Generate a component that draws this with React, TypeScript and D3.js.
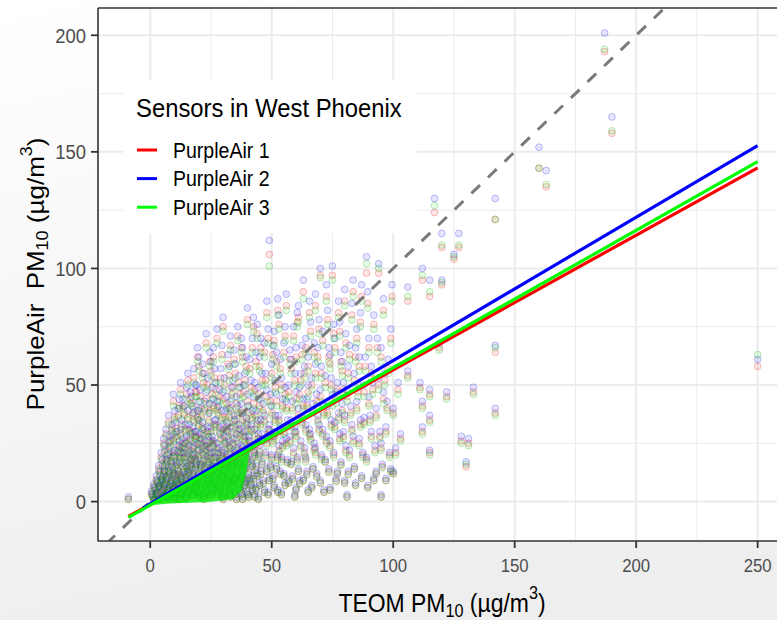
import React from "react";
import * as d3 from "d3";

const W = 777;
const H = 620;

const sensors = ["PurpleAir 1", "PurpleAir 2", "PurpleAir 3"];
const sensorColors = ["#FF0000", "#0000FF", "#00FF00"];
const pointStroke = ["#e00000", "#0000e0", "#009000"];
const xTicks = [0, 50, 100, 150, 200, 250];
const yTicks = [0, 50, 100, 150, 200];
const xMinor = [-25, 25, 75, 125, 175, 225, 275];
const yMinor = [25, 75, 125, 175];

// fitted lines (TEOM, PurpleAir) end points
const fit1: number[][] = [[-9, -6.4], [250, 143.1]];
const fit2: number[][] = [[-3, -2.8], [250, 152.7]];
const fit3: number[][] = [[-9, -6.8], [250, 145.8]];
// dense fan of PurpleAir 3 fitted values near the origin
const fan3: number[][] = [[-2, -1.8], [41, 22.6], [39.5, 12], [37.5, 4.5], [34, 1], [24, -0.2], [8, -0.8]];

// observations: [TEOM, PurpleAir 1, PurpleAir 2, PurpleAir 3]
const obsA: number[][] = [
  [-9, 1, 2, 1], [1, 2, 3, 2], [2, 1, 2, 1], [2, 5, 6, 5], [3, 3, 4, 3], [3, 8, 9, 8], [4, 2, 3, 2], [4, 6, 7, 6], [4, 12, 13, 11],
  [5, 1, 2, 1], [5, 4, 5, 4], [5, 9, 10, 9], [5, 16, 18, 15], [6, 3, 4, 3], [6, 7, 8, 7], [6, 13, 15, 13], [6, 22, 24, 21],
  [7, 2, 2, 2], [7, 5, 6, 5], [7, 10, 11, 10], [7, 18, 20, 17], [8, 1, 2, 1], [8, 6, 7, 6], [8, 12, 13, 12], [8, 26, 28, 25],
  [9, 3, 4, 3], [9, 8, 9, 8], [9, 15, 16, 14], [9, 31, 33, 30], [10, 2, 3, 2], [10, 5, 6, 5], [10, 11, 12, 10], [10, 20, 22, 19],
  [10, 36, 39, 35], [11, 4, 5, 4], [11, 9, 10, 9], [11, 14, 16, 14], [11, 28, 30, 27], [12, 1, 2, 1], [12, 7, 8, 7], [12, 17, 19, 17],
  [12, 24, 26, 23], [12, 41, 44, 40], [13, 3, 4, 3], [13, 10, 11, 10], [13, 21, 23, 20], [13, 33, 35, 32], [14, 5, 6, 5],
  [14, 13, 14, 13], [14, 19, 21, 18], [14, 38, 41, 37], [15, 2, 3, 2], [15, 8, 9, 8], [15, 15, 17, 15], [15, 26, 28, 25],
  [15, 46, 49, 44], [16, 4, 5, 4], [16, 11, 12, 11], [16, 22, 24, 21], [16, 31, 33, 30], [17, 6, 7, 6], [17, 14, 15, 14],
  [17, 18, 20, 18], [17, 42, 45, 41], [18, 3, 4, 3], [18, 9, 10, 9], [18, 24, 26, 23], [18, 35, 38, 34], [18, 53, 57, 51],
  [19, 7, 8, 7], [19, 16, 17, 16], [19, 28, 30, 27], [19, 47, 50, 45], [20, 2, 3, 2], [20, 12, 13, 12], [20, 20, 22, 19],
  [20, 33, 35, 32], [20, 40, 43, 39], [20, 58, 62, 56],
];
const obsB: number[][] = [
  [21, 5, 6, 5], [21, 15, 16, 14], [21, 25, 27, 24], [21, 37, 40, 36], [22, 1, 2, 1], [22, 9, 10, 9], [22, 18, 20, 17],
  [22, 29, 31, 28], [22, 51, 55, 49], [23, 4, 5, 4], [23, 12, 13, 12], [23, 22, 24, 21], [23, 44, 47, 42], [23, 68, 72, 66],
  [24, 7, 8, 7], [24, 16, 17, 16], [24, 26, 28, 25], [24, 35, 38, 34], [25, 2, 3, 2], [25, 10, 11, 10], [25, 19, 21, 18],
  [25, 30, 32, 29], [25, 56, 60, 54], [26, 5, 6, 5], [26, 14, 15, 14], [26, 24, 26, 23], [26, 41, 44, 40], [26, 62, 66, 60],
  [27, 8, 9, 8], [27, 17, 19, 17], [27, 33, 35, 32], [27, 48, 51, 46], [28, 3, 4, 3], [28, 12, 13, 12], [28, 21, 23, 20],
  [28, 38, 41, 37], [29, 6, 7, 6], [29, 15, 16, 15], [29, 27, 29, 26], [29, 53, 57, 51], [30, 1, 2, 1], [30, 10, 11, 10],
  [30, 19, 21, 18], [30, 31, 33, 30], [30, 44, 47, 42], [30, 75, 79, 73], [31, 4, 5, 4], [31, 13, 14, 13], [31, 23, 25, 22],
  [31, 36, 39, 35], [32, 8, 9, 8], [32, 17, 18, 17], [32, 28, 30, 27], [32, 59, 63, 57], [33, 2, 3, 2], [33, 11, 12, 11],
  [33, 21, 23, 20], [33, 40, 43, 39], [33, 67, 71, 65], [34, 6, 7, 6], [34, 15, 16, 15], [34, 25, 27, 24], [34, 49, 52, 47],
  [35, 3, 4, 3], [35, 9, 10, 9], [35, 19, 21, 18], [35, 33, 35, 32], [35, 55, 59, 53], [36, 12, 13, 12], [36, 23, 25, 22],
  [36, 38, 41, 37], [36, 71, 75, 69], [37, 5, 6, 5], [37, 16, 17, 16], [37, 29, 31, 28], [37, 46, 49, 44], [38, 1, 2, 1],
  [38, 10, 11, 10], [38, 21, 23, 20], [38, 35, 38, 34], [38, 62, 66, 60], [39, 7, 8, 7], [39, 14, 15, 14], [39, 26, 28, 25],
  [39, 52, 55, 50], [40, 3, 4, 3], [40, 18, 19, 17], [40, 31, 33, 30], [40, 43, 46, 41], [40, 78, 83, 76],
];
const obsC: number[][] = [
  [41, 9, 10, 9], [41, 24, 26, 23], [41, 57, 61, 55], [42, 5, 6, 5], [42, 15, 16, 15], [42, 36, 39, 35], [42, 66, 70, 64],
  [43, 2, 3, 2], [43, 20, 21, 19], [43, 29, 31, 28], [43, 48, 51, 46], [44, 11, 12, 11], [44, 33, 35, 32], [44, 72, 76, 70],
  [45, 7, 8, 7], [45, 22, 24, 21], [45, 41, 44, 40], [45, 58, 62, 56], [46, 16, 17, 16], [46, 27, 29, 26], [46, 52, 55, 50],
  [47, 4, 5, 4], [47, 35, 37, 34], [47, 64, 68, 62], [48, 13, 14, 13], [48, 25, 27, 24], [48, 45, 48, 43], [48, 81, 86, 79],
  [49, 9, 10, 9], [49, 31, 33, 30], [49, 106, 112, 101], [50, 19, 20, 18], [50, 38, 41, 37], [50, 55, 59, 53], [51, 6, 7, 6],
  [51, 28, 30, 27], [51, 69, 73, 67], [52, 14, 15, 14], [52, 43, 46, 41], [52, 60, 64, 58], [53, 22, 24, 21], [53, 35, 37, 34],
  [53, 76, 80, 74], [54, 3, 4, 3], [54, 18, 19, 17], [54, 50, 53, 48], [55, 11, 12, 11], [55, 30, 32, 29], [55, 64, 68, 62],
  [56, 25, 27, 24], [56, 40, 43, 39], [56, 84, 89, 82], [57, 8, 9, 8], [57, 47, 50, 45], [58, 16, 17, 16], [58, 33, 35, 32],
  [58, 57, 61, 55], [59, 21, 23, 20], [59, 71, 75, 69], [60, 5, 6, 5], [60, 28, 30, 27], [60, 44, 47, 42], [60, 62, 66, 60],
];
const obsD: number[][] = [
  [61, 13, 14, 13], [61, 37, 40, 36], [61, 79, 84, 77], [62, 24, 26, 23], [62, 52, 55, 50], [63, 9, 10, 9], [63, 41, 44, 40],
  [63, 90, 95, 87], [64, 18, 19, 17], [64, 31, 33, 30], [64, 66, 70, 64], [65, 4, 5, 4], [65, 47, 50, 45], [65, 58, 62, 56],
  [66, 27, 29, 26], [66, 73, 77, 71], [67, 14, 15, 14], [67, 39, 42, 38], [68, 21, 23, 20], [68, 55, 59, 53], [68, 84, 89, 82],
  [69, 35, 37, 34], [69, 62, 66, 60], [70, 8, 9, 8], [70, 45, 48, 43], [70, 97, 100, 96], [71, 29, 31, 28], [71, 69, 73, 67],
  [72, 17, 18, 17], [72, 51, 54, 49], [73, 38, 41, 37], [73, 78, 82, 76], [74, 5, 6, 5], [74, 24, 26, 23], [74, 59, 63, 57],
  [75, 43, 46, 41], [75, 97, 101, 95], [76, 32, 34, 31], [76, 66, 70, 64], [77, 12, 13, 12], [77, 48, 51, 46], [78, 27, 29, 26],
  [78, 73, 77, 71], [79, 39, 42, 38], [79, 56, 60, 54], [80, 8, 9, 8], [80, 35, 37, 34], [80, 86, 91, 84],
];
const obsE: number[][] = [
  [81, 2, 3, 2], [81, 45, 48, 43], [82, 20, 22, 19], [82, 63, 67, 61], [83, 31, 33, 30], [83, 80, 85, 78], [84, 14, 15, 14],
  [84, 52, 55, 50], [85, 40, 43, 39], [85, 70, 74, 68], [86, 25, 27, 24], [86, 58, 62, 56], [87, 10, 11, 10], [87, 88, 93, 86],
  [88, 34, 36, 33], [88, 47, 50, 45], [89, 18, 19, 17], [89, 98, 105, 102], [90, 42, 45, 41], [90, 66, 70, 64], [91, 28, 30, 27],
  [91, 55, 58, 53], [92, 9, 10, 9], [92, 76, 80, 74], [93, 12, 13, 12], [93, 37, 40, 36], [94, 50, 53, 48], [94, 98, 102, 100],
  [95, 2, 3, 2], [95, 23, 25, 22], [95, 62, 66, 60], [96, 44, 47, 42], [96, 82, 87, 80], [97, 9, 10, 9], [97, 30, 32, 29],
  [98, 57, 61, 55], [99, 13, 14, 13], [99, 70, 74, 68], [100, 12, 13, 12], [100, 38, 40, 37], [101, 21, 23, 20], [102, 48, 51, 46],
];
const obsF: number[][] = [
  [103, 27, 29, 26], [106, 86, 92, 88], [106, 54, 56, 53], [111, 49, 51, 48], [112, 95, 100, 97], [112, 41, 43, 40],
  [112, 30, 32, 29], [115, 88, 95, 90], [115, 46, 48, 45], [115, 35, 37, 34], [115, 21, 22, 20], [117, 124, 130, 127],
  [119, 66, 68, 65], [120, 109, 115, 110], [120, 93, 95, 94], [122, 45, 47, 44], [125, 104, 106, 105], [127, 109, 115, 110],
  [128, 26, 28, 25], [130, 15, 17, 16], [131, 25, 27, 24], [133, 47, 49, 46], [142, 38, 40, 37], [142, 64, 67, 66],
  [142, 121, 130, 121], [160, 143, 152, 143], [163, 135, 142, 136], [190, 158, 165, 159], [187, 193, 201, 194], [250, 58, 61, 63],
];
const obsG: number[][] = [
  [0.5, 3.5, 4.5, 3], [1.5, 6.5, 7.5, 6], [1.5, 0.5, 1, 0.5], [2.5, 9.5, 11, 9], [2.5, 3, 3.5, 2.5], [3.5, 14, 15.5, 13],
  [3.5, 5.5, 6.5, 5], [3.5, 1, 1.5, 1], [4.5, 19, 21, 18], [4.5, 8.5, 9.5, 8], [4.5, 3.5, 4, 3], [5.5, 11.5, 13, 11],
  [5.5, 25, 27, 24], [5.5, 6, 7, 5.5], [6.5, 2.5, 3, 2], [6.5, 9.5, 10.5, 9], [6.5, 16.5, 18, 16], [6.5, 29, 31, 28],
  [7.5, 4, 5, 4], [7.5, 13.5, 15, 13], [7.5, 21, 23, 20], [7.5, 34, 37, 33], [8.5, 8, 9, 7.5], [8.5, 17.5, 19, 17],
  [8.5, 3, 3.5, 2.5], [8.5, 24, 26, 23], [9.5, 5.5, 6.5, 5], [9.5, 11.5, 12.5, 11], [9.5, 19.5, 21, 19], [9.5, 27, 29, 26],
  [9.5, 43, 46, 41], [10.5, 1, 1.5, 1], [10.5, 8.5, 9.5, 8], [10.5, 15.5, 17, 15], [10.5, 31.5, 34, 30], [11.5, 6, 7, 6],
  [11.5, 12, 13, 11.5], [11.5, 22, 24, 21], [11.5, 37, 40, 36], [12.5, 3.5, 4, 3], [12.5, 10, 11, 9.5], [12.5, 19, 21, 18],
  [12.5, 29, 31, 28], [12.5, 48, 51, 46], [13.5, 7, 8, 7], [13.5, 15, 16.5, 14.5], [13.5, 25, 27, 24], [13.5, 41, 44, 40],
  [14.5, 1.5, 2, 1], [14.5, 10.5, 11.5, 10], [14.5, 23, 25, 22], [14.5, 31, 33, 30], [15.5, 5, 6, 5], [15.5, 13, 14, 12.5],
  [15.5, 19, 20.5, 18], [15.5, 36, 39, 35], [15.5, 52, 55, 50], [16.5, 8, 9, 8], [16.5, 16, 17.5, 15.5], [16.5, 27, 29, 26],
  [16.5, 44, 47, 42], [17.5, 2.5, 3, 2], [17.5, 11, 12, 10.5], [17.5, 21, 23, 20], [17.5, 30, 32, 29], [17.5, 38, 41, 37],
  [18.5, 6.5, 7.5, 6], [18.5, 14, 15, 13.5], [18.5, 18.5, 20, 18], [18.5, 28, 30, 27], [18.5, 47, 50, 45], [19.5, 4, 5, 4],
  [19.5, 10, 11, 9.5], [19.5, 23, 25, 22], [19.5, 36, 39, 35], [19.5, 62, 66, 60], [20.5, 7.5, 8.5, 7], [20.5, 16, 17, 15.5],
  [20.5, 27, 29, 26], [20.5, 45, 48, 43],
];
const obsH: number[][] = [
  [21.5, 2, 3, 2], [21.5, 11, 12, 10.5], [21.5, 21, 23, 20], [21.5, 32, 34, 31], [21.5, 55, 59, 53], [22.5, 6, 7, 6],
  [22.5, 14, 15, 13.5], [22.5, 24, 26, 23], [22.5, 40, 43, 39], [23.5, 9, 10, 8.5], [23.5, 18, 19.5, 17], [23.5, 30, 32, 29],
  [23.5, 50, 53, 48], [24.5, 3, 4, 3], [24.5, 12.5, 13.5, 12], [24.5, 21, 23, 20], [24.5, 39, 42, 38], [24.5, 60, 64, 58],
  [25.5, 7, 8, 7], [25.5, 15, 16, 14.5], [25.5, 26, 28, 25], [25.5, 46, 49, 44], [26.5, 10, 11, 9.5], [26.5, 19, 21, 18],
  [26.5, 33, 35, 32], [26.5, 53, 57, 51], [27.5, 4.5, 5.5, 4], [27.5, 13, 14, 12.5], [27.5, 23, 25, 22], [27.5, 40, 43, 39],
  [27.5, 70, 74, 68], [28.5, 8, 9, 7.5], [28.5, 17, 18.5, 16.5], [28.5, 30, 32, 29], [28.5, 45, 48, 43], [29.5, 2, 3, 2],
  [29.5, 11, 12, 10.5], [29.5, 20, 22, 19], [29.5, 36, 39, 35], [29.5, 63, 67, 61], [30.5, 6, 7, 5.5], [30.5, 15, 16, 14.5],
  [30.5, 26, 28, 25], [30.5, 50, 53, 48], [31.5, 9, 10, 8.5], [31.5, 19, 20, 18], [31.5, 32, 34, 31], [31.5, 42, 45, 40],
  [32.5, 3.5, 4.5, 3], [32.5, 13, 14, 12.5], [32.5, 24, 26, 23], [32.5, 37, 40, 36], [32.5, 54, 58, 52], [33.5, 7, 8, 6.5],
  [33.5, 16, 17, 15.5], [33.5, 30, 32, 29], [33.5, 46, 49, 44], [34.5, 10, 11, 9.5], [34.5, 20, 22, 19], [34.5, 35, 37, 34],
  [34.5, 61, 65, 59], [35.5, 1, 2, 1], [35.5, 14, 15, 13.5], [35.5, 27, 29, 26], [35.5, 42, 45, 40], [36.5, 7.5, 8.5, 7],
  [36.5, 17, 18, 16.5], [36.5, 31, 33, 30], [36.5, 51, 54, 49], [37.5, 3, 4, 3], [37.5, 11, 12, 10.5], [37.5, 22, 24, 21],
  [37.5, 39, 42, 38], [37.5, 66, 70, 64], [38.5, 6, 7, 6], [38.5, 15, 16, 14.5], [38.5, 28, 30, 27], [38.5, 47, 50, 45],
  [39.5, 9, 10, 8.5], [39.5, 20, 21, 19], [39.5, 34, 36, 33], [39.5, 58, 62, 56], [40.5, 2, 3, 2], [40.5, 12, 13, 11.5],
  [40.5, 26, 28, 25], [40.5, 38, 41, 37], [41.5, 7, 8, 7], [41.5, 17, 18, 16.5], [41.5, 31, 33, 30], [41.5, 49, 52, 47],
  [42.5, 10, 11, 9.5], [42.5, 22, 24, 21], [42.5, 42, 45, 40], [42.5, 75, 79, 73], [43.5, 5, 6, 5], [43.5, 14, 15, 13.5],
  [43.5, 37, 39, 36], [43.5, 60, 64, 58], [44.5, 1, 2, 1], [44.5, 19, 20, 18], [44.5, 27, 29, 26], [44.5, 46, 49, 44],
  [45.5, 12, 13, 11.5], [45.5, 33, 35, 32], [45.5, 66, 70, 64],
];
const obsI: number[][] = [
  [46.5, 8, 9, 7.5], [46.5, 39, 42, 38], [47.5, 20, 21, 19], [47.5, 52, 55, 50], [48.5, 3, 4, 3], [48.5, 29, 31, 28],
  [48.5, 70, 74, 68], [49.5, 15, 16, 14.5], [49.5, 43, 46, 41], [50.5, 10, 11, 9.5], [50.5, 26, 28, 25], [50.5, 63, 67, 61],
  [51.5, 35, 37, 34], [51.5, 49, 52, 47], [52.5, 4, 5, 4], [52.5, 19, 20, 18], [52.5, 82, 87, 80], [53.5, 12, 13, 11.5],
  [53.5, 30, 32, 29], [53.5, 57, 61, 55], [54.5, 24, 26, 23], [54.5, 41, 44, 40], [55.5, 7, 8, 7], [55.5, 46, 49, 44],
  [55.5, 71, 75, 69], [56.5, 17, 18, 16.5], [56.5, 33, 35, 32], [57.5, 26, 28, 25], [57.5, 61, 65, 59], [58.5, 10, 11, 9.5],
  [58.5, 40, 43, 39], [59.5, 2, 3, 2], [59.5, 30, 32, 29], [59.5, 52, 55, 50], [60.5, 18, 19, 17], [60.5, 77, 81, 75],
  [61.5, 8, 9, 7.5], [61.5, 46, 49, 44], [62.5, 34, 36, 33], [62.5, 63, 67, 61], [63.5, 21, 23, 20], [63.5, 55, 58, 53],
  [64.5, 12, 13, 11.5], [64.5, 41, 44, 40], [65.5, 29, 31, 28], [65.5, 81, 86, 79], [66.5, 6, 7, 6], [66.5, 50, 53, 48],
  [67.5, 23, 25, 22], [67.5, 64, 68, 62], [68.5, 11, 12, 10.5], [68.5, 43, 46, 41], [69.5, 31, 33, 30], [69.5, 74, 78, 72],
  [70.5, 19, 20, 18], [70.5, 55, 58, 53], [71.5, 4, 5, 4], [71.5, 38, 41, 37], [72.5, 26, 28, 25], [72.5, 88, 93, 86],
  [73.5, 13, 14, 12.5], [73.5, 62, 66, 60], [74.5, 33, 35, 32], [74.5, 50, 53, 48], [75.5, 20, 21, 19], [75.5, 72, 76, 70],
  [76.5, 9, 10, 8.5], [76.5, 44, 47, 42], [77.5, 36, 38, 35], [77.5, 81, 86, 79], [78.5, 16, 17, 15.5], [78.5, 60, 64, 58],
  [79.5, 28, 30, 27], [79.5, 48, 51, 46], [80.5, 22, 24, 21], [80.5, 68, 72, 66], [81.5, 12, 13, 11.5], [81.5, 55, 58, 53],
  [82.5, 38, 41, 37], [83.5, 26, 28, 25], [83.5, 90, 95, 88], [84.5, 7, 8, 7], [84.5, 62, 66, 60], [85.5, 47, 50, 45],
  [86.5, 33, 35, 32], [86.5, 77, 81, 75], [87.5, 20, 21, 19], [88.5, 58, 62, 56], [89.5, 6, 7, 6], [89.5, 85, 90, 83],
  [90.5, 35, 37, 34], [91.5, 48, 51, 46], [92.5, 22, 24, 21], [93.5, 66, 70, 64], [94.5, 28, 30, 27], [95.5, 15, 16, 14.5],
  [96.5, 52, 55, 50], [97.5, 40, 43, 39], [98.5, 20, 21, 19], [99.5, 88, 93, 86],
];

const FONT = "'Liberation Sans', Arial, Helvetica, sans-serif";
const SX = 0.9;

export default function App() {
  const left = 98, right = 780, top = 8, bottom = 541;
  const x = d3.scaleLinear().domain([-21.5, 259.2]).range([left, right]);
  const y = d3.scaleLinear().domain([-16.9, 211.7]).range([bottom, top]);
  const obs = [...obsA, ...obsB, ...obsC, ...obsD, ...obsE, ...obsF, ...obsG, ...obsH, ...obsI];
  const fits = [fit1, fit2, fit3];
  const line = d3.line<number[]>().x((d) => x(d[0])).y((d) => y(d[1]));
  const diagMin = -16.9, diagMax = 211.7;

  return (
    <svg width={W} height={H} style={{ display: "block", position: "absolute", left: 0, top: 0 }} fontFamily={FONT}>
      <defs>
        <linearGradient id="bg" x1="0" y1="0" x2="0.3" y2="1">
          <stop offset="0" stopColor="#ffffff" />
          <stop offset="1" stopColor="#eeeeee" />
        </linearGradient>
        <clipPath id="panel">
          <rect x={left} y={top} width={right - left} height={bottom - top} />
        </clipPath>
      </defs>
      <rect x={0} y={0} width={W} height={H} fill="url(#bg)" />
      <rect x={left} y={top} width={right - left} height={bottom - top} fill="#ffffff" />
      <g clipPath="url(#panel)">
        {xMinor.map((t) => (
          <line key={"xm" + t} x1={x(t)} x2={x(t)} y1={top} y2={bottom} stroke="#ebebeb" strokeWidth={1} />
        ))}
        {yMinor.map((t) => (
          <line key={"ym" + t} x1={left} x2={right} y1={y(t)} y2={y(t)} stroke="#ebebeb" strokeWidth={1} />
        ))}
        {xTicks.map((t) => (
          <line key={"xg" + t} x1={x(t)} x2={x(t)} y1={top} y2={bottom} stroke="#ebebeb" strokeWidth={2} />
        ))}
        {yTicks.map((t) => (
          <line key={"yg" + t} x1={left} x2={right} y1={y(t)} y2={y(t)} stroke="#ebebeb" strokeWidth={2} />
        ))}
        {sensors.map((s, si) => (
          <g key={s}>
            {obs.map((d, i) => (
              <circle
                key={i}
                cx={x(d[0])}
                cy={y(d[si + 1])}
                r={3.4}
                fill={sensorColors[si]}
                fillOpacity={0.1}
                stroke={pointStroke[si]}
                strokeOpacity={0.27}
                strokeWidth={0.9}
              />
            ))}
          </g>
        ))}
        <line
          x1={x(diagMin)} y1={y(diagMin)} x2={x(diagMax)} y2={y(diagMax)}
          stroke="#7a7a7a" strokeWidth={3} strokeDasharray="12,11" strokeDashoffset={4}
        />
        <path d={(line(fan3) || "") + "Z"} fill="#00ee00" fillOpacity={0.8} />
        {fits.map((f, i) => (
          <path key={i} d={line(f) || ""} stroke={sensorColors[i]} strokeWidth={3.2} fill="none" />
        ))}
      </g>
      {/* axes */}
      <line x1={left} x2={left} y1={top} y2={bottom + 0.5} stroke="#333" strokeWidth={1.6} />
      <line x1={left} x2={W} y1={bottom} y2={bottom} stroke="#333" strokeWidth={1.6} />
      <line x1={left} x2={W} y1={top} y2={top} stroke="#333" strokeWidth={1.4} />
      {xTicks.map((t) => (
        <g key={"xt" + t}>
          <line x1={x(t)} x2={x(t)} y1={bottom} y2={bottom + 7} stroke="#333" strokeWidth={1.8} />
          <text transform={`translate(${x(t)},572) scale(${SX},1)`} textAnchor="middle" fontSize={18.6} fill="#4d4d4d">
            {t}
          </text>
        </g>
      ))}
      {yTicks.map((t) => (
        <g key={"yt" + t}>
          <line x1={left - 7} x2={left} y1={y(t)} y2={y(t)} stroke="#333" strokeWidth={1.8} />
          <text transform={`translate(86,${y(t) + 7.3}) scale(${SX},1)`} textAnchor="end" fontSize={20.5} fill="#4d4d4d">
            {t}
          </text>
        </g>
      ))}
      {/* axis titles */}
      <text transform={`translate(442,611.5) scale(${SX},1)`} textAnchor="middle" fontSize={25.5} fill="#000">
        TEOM PM<tspan fontSize={18} dy={5}>10</tspan>
        <tspan dy={-5}> (µg/m</tspan>
        <tspan fontSize={18} dy={-13}>3</tspan>
        <tspan dy={13}>)</tspan>
      </text>
      <text transform={`translate(43.5,274) rotate(-90) scale(1,${SX})`} textAnchor="middle" fontSize={26} fill="#000">
        PurpleAir<tspan dx={7}> PM</tspan>
        <tspan fontSize={18} dy={5}>10</tspan>
        <tspan dy={-5}> (µg/m</tspan>
        <tspan fontSize={18} dy={-13}>3</tspan>
        <tspan dy={13}>)</tspan>
      </text>
      {/* legend */}
      <rect x={123} y={80} width={294} height={153} fill="#ffffff" />
      <text transform={`translate(136,117) scale(${SX},1)`} fontSize={26.5} fill="#000">
        Sensors in West Phoenix
      </text>
      {sensors.map((s, i) => {
        const cy = 150 + i * 28.6;
        return (
          <g key={"lg" + s}>
            <line x1={137} x2={157} y1={cy} y2={cy} stroke={sensorColors[i]} strokeWidth={3} />
            <text transform={`translate(173,${cy + 7.8}) scale(${SX},1)`} fontSize={21.7} fill="#000">
              {s}
            </text>
          </g>
        );
      })}
    </svg>
  );
}
